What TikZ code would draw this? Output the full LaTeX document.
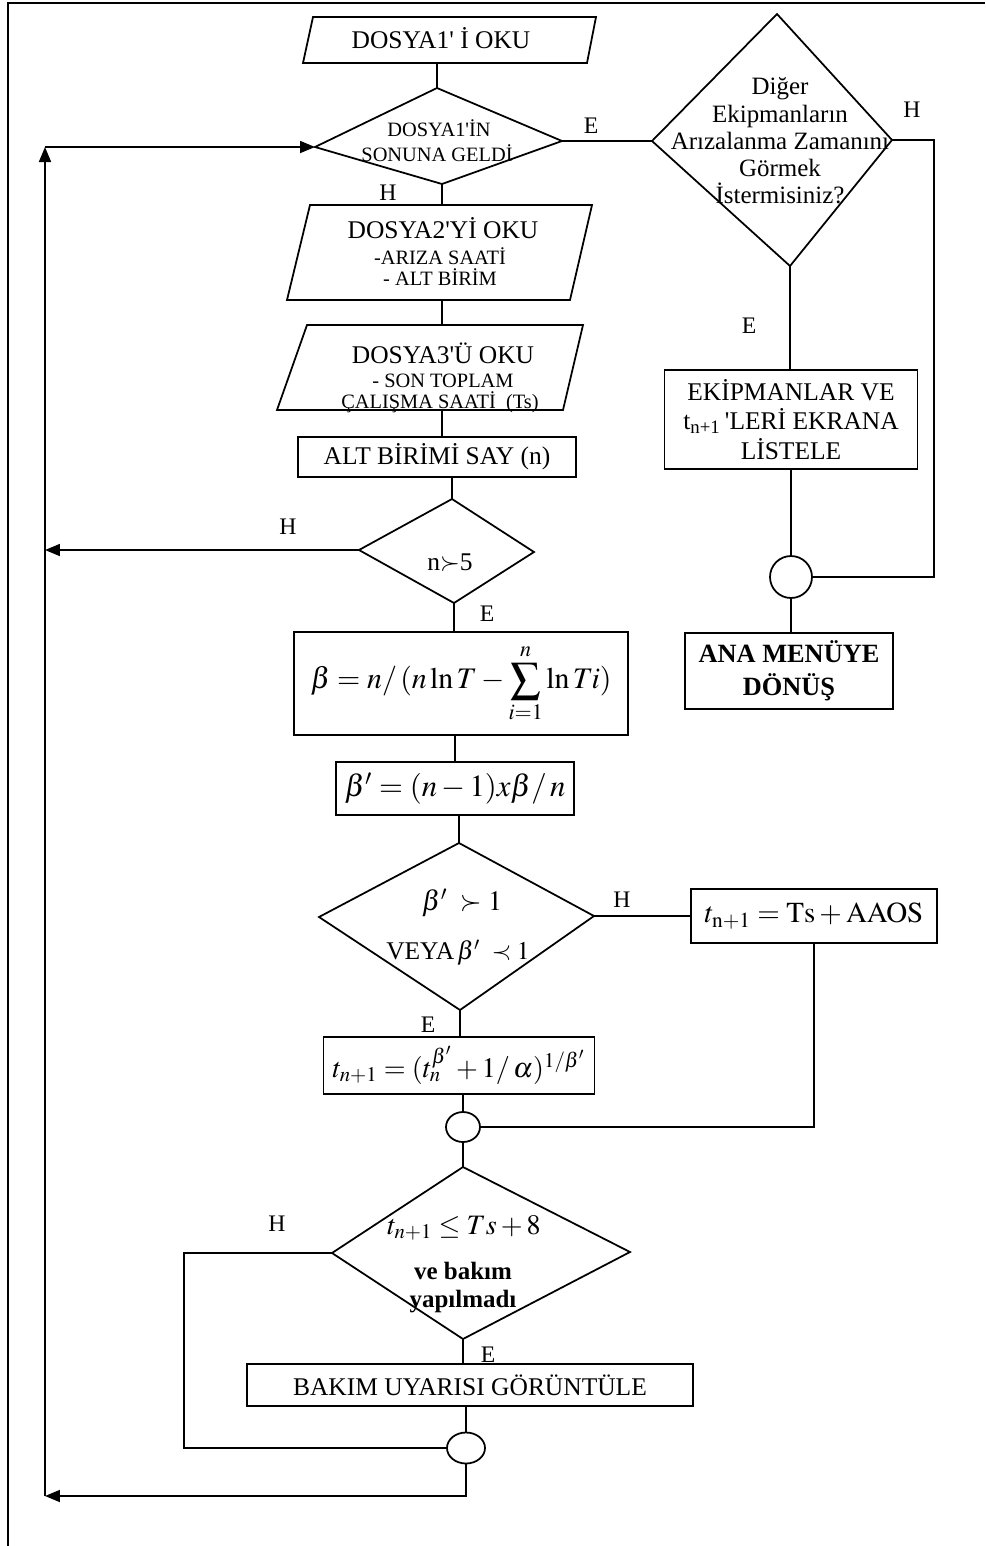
\documentclass[tikz,border=0pt]{standalone}
\usepackage{mathptmx}
\usepackage[no-math]{fontspec}
\setmainfont{Liberation Serif}
\usetikzlibrary{arrows.meta,calc,shapes.geometric}
\newcommand{\apo}{\textquotesingle}
\begin{document}
\begin{tikzpicture}[x=0.02cm,y=-0.02cm,line width=1pt,
  lab/.style={inner sep=0,font=\fontsize{14.5}{17}\selectfont},
  lbl/.style={inner sep=0,font=\fontsize{13.5}{16}\selectfont},
  small/.style={inner sep=0,font=\fontsize{11.6}{14}\selectfont},
  mth/.style={inner sep=0,font=\fontsize{16}{19}\selectfont},
  box/.style={draw,rectangle,inner sep=0,align=center,font=\fontsize{14.5}{17}\selectfont},
  circ/.style={draw,ellipse,inner sep=0},
  arr/.style={-{Triangle[length=3mm,width=2.4mm]}}
]
\useasboundingbox (0,0) rectangle (985,1546);
% page border
\draw[line width=1.2pt] (8,1546) -- (8,3) -- (985,3);

% ---------- P1
\draw (313,17) -- (596,17) -- (587,63) -- (303,63) -- cycle;
\node[lab] (p1) at (441,38) {DOSYA1\apo{} İ OKU};
\coordinate (p1s) at (437,63);

% ---------- D1
\coordinate (d1t) at (437,88);
\coordinate (d1r) at (562,141);
\coordinate (d1b) at (442,184);
\coordinate (d1l) at (315,147);
\draw (d1t) -- (d1r) -- (d1b) -- (d1l) -- cycle;
\node[small] (d1x) at (439,128) {DOSYA1\apo İN};
\node[small] (d1y) at (437,153) {SONUNA GELDİ};

% ---------- D2
\coordinate (d2t) at (777,14);
\coordinate (d2r) at (892,140);
\coordinate (d2b) at (790,266);
\coordinate (d2l) at (652,141);
\draw (d2t) -- (d2r) -- (d2b) -- (d2l) -- cycle;
\node[inner sep=0,align=center,font=\fontsize{14.2}{15.5}\selectfont] (d2x) at (780,141)
  {Diğer\\Ekipmanların\\Arızalanma Zamanını\\Görmek\\İstermisiniz?};

% ---------- right column
\node[box,minimum width=50.6mm,minimum height=19.8mm] (ekip) at (791,419.5)
  {EKİPMANLAR VE\\t\textsubscript{n+1}\,\apo LERİ EKRANA\\LİSTELE};
\node[circ,minimum width=8.4mm,minimum height=8.4mm] (c1) at (791,577) {};
\node[box,minimum width=41.6mm,minimum height=15.2mm,font=\fontsize{15}{18.7}\selectfont\bfseries] (ana) at (789,671)
  {ANA MENÜYE\\DÖNÜŞ};
\coordinate (h2a) at (934,140);
\coordinate (h2b) at (934,577);

% ---------- P2
\draw (310,205) -- (592,205) -- (570,300) -- (287,300) -- cycle;
\coordinate (p2n) at (442,205);
\coordinate (p2s) at (442,300);
\node[lab] (p2x) at (443,228) {DOSYA2\apo Yİ OKU};
\node[small] (p2y) at (440,256) {-ARIZA SAATİ};
\node[small] (p2z) at (440,277) {- ALT BİRİM};

% ---------- P3
\draw (307,325) -- (583,325) -- (563,410) -- (277,410) -- cycle;
\coordinate (p3n) at (442,325);
\coordinate (p3s) at (442,410);
\node[lab] (p3x) at (443,353) {DOSYA3\apo Ü OKU};
\node[small] (p3y) at (443,381) {- SON TOPLAM};
\node[small] (p3z) at (440,402) {ÇALIŞMA SAATİ\ \ (Ts)};

% ---------- box n
\node[box,minimum width=55.6mm,minimum height=8mm] (bn) at (437,457) {ALT BİRİMİ SAY (n)};

% ---------- Dn
\coordinate (dnt) at (452,499);
\coordinate (dnr) at (534,552);
\coordinate (dnb) at (454,603);
\coordinate (dnl) at (359,550);
\draw (dnt) -- (dnr) -- (dnb) -- (dnl) -- cycle;
\node[lab] (dnx) at (450,563) {n$\succ$5};

% ---------- beta boxes
\node[box,minimum width=66.8mm,minimum height=20.6mm,font=\fontsize{17}{20}\selectfont] (beta) at (461,683.5)
  {$\displaystyle \beta = n/\,(n\ln T - \sum_{i=1}^{n}\ln Ti)$};
\node[box,minimum width=47.6mm,minimum height=10.6mm,font=\fontsize{17.5}{20}\selectfont] (betap) at (455,788.5)
  {$\beta^{\prime} = (n-1)x\beta/\,n$};

% ---------- D3
\coordinate (d3t) at (459,843);
\coordinate (d3r) at (594,916);
\coordinate (d3b) at (460,1010);
\coordinate (d3l) at (319,917);
\draw (d3t) -- (d3r) -- (d3b) -- (d3l) -- cycle;
\node[mth] (d3x) at (462,903) {$\beta^{\prime}\;\succ 1$};
\node[mth] (d3y) at (458,953) {\fontsize{14.5}{17}\selectfont VEYA$\,\beta^{\prime}\;\prec 1$};

\node[box,minimum width=49.2mm,minimum height=10.8mm,font=\fontsize{16.5}{19}\selectfont] (aaos) at (814,916)
  {$t_{\mathrm{n+1}} = \mathrm{Ts} + \mathrm{AAOS}$};
\node[box,minimum width=54.2mm,minimum height=11.4mm,font=\fontsize{16}{19}\selectfont] (tform) at (459,1065.5)
  {$t_{n+1} = (t_n^{\beta^{\prime}} + 1/\,\alpha)^{1/\beta^{\prime}}$};

\node[circ,minimum width=6.8mm,minimum height=6mm] (c2) at (463,1127) {};

% ---------- D4
\coordinate (d4t) at (463,1167);
\coordinate (d4r) at (630,1252);
\coordinate (d4b) at (463,1339);
\coordinate (d4l) at (332,1253);
\draw (d4t) -- (d4r) -- (d4b) -- (d4l) -- cycle;
\node[mth] (d4x) at (464,1228) {$t_{n+1} \le Ts + 8$};
\node[lab,font=\fontsize{14.2}{17}\selectfont\bfseries] (d4y) at (463,1271) {ve bakım};
\node[lab,font=\fontsize{14.2}{17}\selectfont\bfseries] (d4z) at (463,1302) {yapılmadı};

\node[box,minimum width=89.2mm,minimum height=8.4mm] (bakim) at (470,1385) {BAKIM UYARISI GÖRÜNTÜLE};
\node[circ,minimum width=7.6mm,minimum height=6.2mm] (c3) at (466,1448) {};

\coordinate (hl1) at (184,1253);
\coordinate (hl2) at (184,1448);
\coordinate (bot) at (466,1496);
\coordinate (loopB) at (45,1496);
\coordinate (loopT) at (45,147);

% ---------- connectors
\draw (p1s) -- (d1t);
\draw (d1r) -- (d2l);
\draw (d2r) -- (h2a) -- (h2b) -- (c1.east);
\draw (d2b) -- (d2b |- ekip.north);
\draw (c1.north |- ekip.south) -- (c1.north);
\draw (c1.south) -- (c1.south |- ana.north);
\draw (d1b) -- (p2n);
\draw (p2s) -- (p3n);
\draw (p3s) -- (p3s |- bn.north);
\draw (dnt |- bn.south) -- (dnt);
\draw[arr] (dnl) -- (dnl -| loopB);
\draw (dnb) -- (dnb |- beta.north);
\draw (betap.north |- beta.south) -- (betap.north);
\draw (d3t |- betap.south) -- (d3t);
\draw (d3r) -- (d3r -| aaos.west);
\draw (d3b) -- (d3b |- tform.north);
\draw (c2.north |- tform.south) -- (c2.north);
\draw (aaos.south) |- (c2.east);
\draw (c2.south) -- (d4t);
\draw (d4l) -- (hl1) -- (hl2) -- (c3.west);
\draw (d4b) -- (d4b |- bakim.north);
\draw (c3.north |- bakim.south) -- (c3.north);
\draw[arr] (c3.south) -- (bot) -- (loopB);
\draw[arr] (loopB) -- (loopT);
\draw[arr] (loopT) -- (d1l);

% ---------- branch labels
\node[lbl] (e1) at (591,126) {E};
\node[lbl] (h1) at (388,193) {H};
\node[lbl] (h2) at (912,110) {H};
\node[lbl] (e2) at (749,326) {E};
\node[lbl] (h3) at (288,527) {H};
\node[lbl] (e3) at (487,614) {E};
\node[lbl] (h4) at (622,900) {H};
\node[lbl] (e4) at (428,1025) {E};
\node[lbl] (h5) at (277,1224) {H};
\node[lbl] (e5) at (488,1355) {E};
\end{tikzpicture}
\end{document}
